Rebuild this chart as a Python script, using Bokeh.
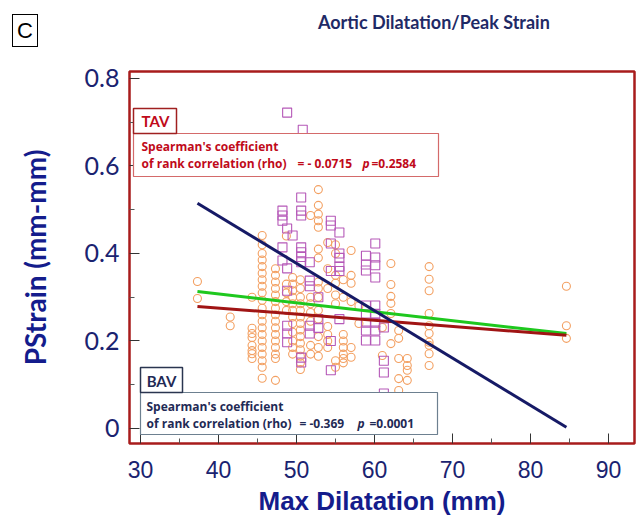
from bokeh.plotting import figure
from bokeh.layouts import column
from bokeh.models import Range1d, FixedTicker, Label, BoxAnnotation, Div
from bokeh.embed import file_html
from bokeh.resources import INLINE

# ---------------- data ----------------
x_ticks = [30, 40, 50, 60, 70, 80, 90]
x_minor = [35, 45, 55, 65, 75, 85]
y_ticks = [0, 0.2, 0.4, 0.6, 0.8]
y_minor = [0.1, 0.3, 0.5, 0.7]
y_tick_labels = {0: "0", 0.2: "0.2", 0.4: "0.4", 0.6: "0.6", 0.8: "0.8"}

# BAV (orange circles): column x positions and the strain values in each column
bav_col_x = [37.3, 41.5, 44.3, 45.6, 47.3, 48.7, 49.5, 50.5, 51.8, 52.8,
             54.0, 55.0, 56.0, 57.0, 58.0, 61.0, 62.1, 63.1, 64.2, 67.0, 84.6]
bav_col_y = [
    [0.336, 0.297],
    [0.255, 0.235],
    [0.30, 0.229, 0.217, 0.208, 0.19, 0.178, 0.171, 0.16],
    [0.441, 0.42, 0.40, 0.385, 0.37, 0.355, 0.34, 0.325, 0.31, 0.293, 0.275,
     0.26, 0.245, 0.23, 0.215, 0.20, 0.185, 0.17, 0.155, 0.14, 0.115],
    [0.365, 0.35, 0.335, 0.32, 0.305, 0.29, 0.275, 0.26, 0.245, 0.23, 0.215,
     0.20, 0.185, 0.17, 0.16, 0.11],
    [0.44, 0.33, 0.31, 0.29, 0.27],
    [0.345, 0.33, 0.315, 0.30, 0.285, 0.27, 0.255, 0.24, 0.22, 0.20, 0.185, 0.17],
    [0.34, 0.32, 0.30, 0.285, 0.27, 0.255, 0.24, 0.225, 0.21, 0.195, 0.18,
     0.165, 0.15, 0.135],
    [0.487, 0.30, 0.285, 0.265, 0.245, 0.19, 0.17],
    [0.546, 0.51, 0.49, 0.475, 0.46, 0.41, 0.39, 0.335, 0.32, 0.30, 0.27,
     0.25, 0.21, 0.185, 0.165],
    [0.425, 0.365, 0.32, 0.233, 0.215, 0.20, 0.185],
    [0.42, 0.40, 0.35, 0.332, 0.305, 0.285, 0.155, 0.14],
    [0.34, 0.30, 0.215, 0.20, 0.185, 0.17, 0.16, 0.15],
    [0.407, 0.35, 0.332, 0.29, 0.185, 0.163],
    [0.28, 0.24],
    [0.231, 0.167],
    [0.377, 0.329, 0.302, 0.286, 0.263, 0.194],
    [0.224, 0.206, 0.16, 0.114, 0.087],
    [0.16, 0.144, 0.133, 0.11],
    [0.37, 0.341, 0.315, 0.263, 0.235, 0.217, 0.197, 0.19, 0.171, 0.144],
    [0.325, 0.235, 0.206],
]

# TAV (purple squares)
tav_col_x = [48.8, 50.8, 48.2, 48.8, 49.5, 50.6, 51.7, 52.8, 54.4, 55.5,
             58.9, 60.1, 61.2]
tav_col_y = [
    [0.722],
    [0.683],
    [0.498, 0.487, 0.475, 0.414, 0.384],
    [0.457, 0.366, 0.315, 0.235, 0.217, 0.197],
    [0.441],
    [0.528, 0.498, 0.487, 0.414, 0.403, 0.392, 0.38, 0.162, 0.151],
    [0.38, 0.338, 0.325, 0.235, 0.217],
    [0.30, 0.25, 0.23],
    [0.475, 0.464, 0.423, 0.36, 0.20, 0.133],
    [0.448, 0.40, 0.39, 0.37, 0.36, 0.25],
    [0.395, 0.375, 0.361, 0.281, 0.26, 0.242, 0.224, 0.201],
    [0.423, 0.391, 0.373, 0.345, 0.281, 0.262, 0.242, 0.224, 0.201],
    [0.231, 0.155, 0.128, 0.08],
]

# regression lines (end points)
bav_fit_x = [37.3, 84.6]
bav_fit_y = [0.515, 0.003]
tav_fit_x = [37.3, 84.6]
tav_fit_y = [0.279, 0.213]
all_fit_x = [37.3, 84.6]
all_fit_y = [0.313, 0.217]

bav_x = [cx for cx, ys in zip(bav_col_x, bav_col_y) for _ in ys]
bav_y = [y for ys in bav_col_y for y in ys]
tav_x = [cx for cx, ys in zip(tav_col_x, tav_col_y) for _ in ys]
tav_y = [y for ys in tav_col_y for y in ys]

# ---------------- layout ----------------
W, H = 637, 523
HDR = 60                                     # height of the header strip
FL, FR, FT, FB = 129, 634, 71, 443           # frame edges in page pixels
X0, X1 = 28.59, 93.33
Y0, Y1 = -0.0343, 0.816


def dx(px):
    return X0 + (px - FL) * (X1 - X0) / (FR - FL)


def dy(py):
    return Y1 - (py - FT) * (Y1 - Y0) / (FB - FT)


# header strip: panel letter in a box and the chart title
header_html = (
    '<div style="position:relative;width:%dpx;height:%dpx;background:white;">'
    '<div style="position:absolute;left:12px;top:14px;width:26px;height:33px;'
    'box-sizing:border-box;border:1px solid black;background:white;'
    "font-family:'Liberation Sans';font-size:22px;line-height:31px;"
    'text-align:center;color:black;">C</div>'
    '<div style="position:absolute;left:318px;top:11px;height:22px;'
    "white-space:nowrap;font-family:'Lato';font-weight:bold;font-size:18px;"
    'line-height:22px;color:#1f2a66;">Aortic Dilatation/Peak Strain</div>'
    '</div>' % (W, HDR)
)
hdr = Div(text=header_html, width=W, height=HDR, margin=0)

NAVY = "#1a2370"
p = figure(width=W, height=H - HDR, x_range=Range1d(X0, X1),
           y_range=Range1d(Y0, Y1),
           output_backend="svg", toolbar_location=None, title=None,
           min_border_left=FL, min_border_right=W - FR,
           min_border_top=FT - HDR, min_border_bottom=H - FB)
p.grid.visible = False
p.outline_line_color = "#a81c1c"
p.outline_line_width = 2.5
p.background_fill_color = "white"
p.border_fill_color = "white"

p.xaxis.ticker = FixedTicker(ticks=x_ticks, minor_ticks=x_minor)
p.yaxis.ticker = FixedTicker(ticks=y_ticks, minor_ticks=y_minor)
p.yaxis.major_label_overrides = y_tick_labels

for ax in (p.xaxis, p.yaxis):
    ax.axis_line_color = None
    ax.major_tick_in = 10
    ax.major_tick_out = 0
    ax.minor_tick_in = 5
    ax.minor_tick_out = 0
    ax.major_tick_line_color = "#333333"
    ax.minor_tick_line_color = "#555555"
    ax.major_label_text_color = NAVY
    ax.axis_label_text_color = "#141c8c"
    ax.axis_label_text_font_style = "bold"

p.xaxis.axis_label = "Max Dilatation (mm)"
p.xaxis.axis_label_text_font = "Liberation Sans"
p.xaxis.axis_label_text_font_size = "26px"
p.xaxis.major_label_text_font = "Liberation Sans"
p.xaxis.major_label_text_font_size = "23px"
p.xaxis.major_label_standoff = 17
p.xaxis.axis_label_standoff = 5

p.yaxis.axis_label = "PStrain (mm-mm)"
p.yaxis.axis_label_text_font = "Lato"
p.yaxis.axis_label_text_font_size = "28px"
p.yaxis.major_label_text_font = "Lato"
p.yaxis.major_label_text_font_size = "25px"
p.yaxis.major_label_standoff = 10
p.yaxis.axis_label_standoff = 30

# data marks
p.scatter(bav_x, bav_y, marker="circle", size=8, fill_color=None,
          line_color="#f3a062", line_width=1.1)
p.scatter(tav_x, tav_y, marker="square", size=9, fill_color=None,
          line_color="#b558b8", line_width=1.1)

p.line(all_fit_x, all_fit_y, line_color="#1ec81e", line_width=3)
p.line(tav_fit_x, tav_fit_y, line_color="#a01414", line_width=3)
p.line(bav_fit_x, bav_fit_y, line_color="#161a66", line_width=3)

# ---------------- annotations ----------------
RED = "#c00a1a"
BNAVY = "#1f2a55"
LFONT = "Open Sans"
FS = "12px"


def box(l, t, r, b, color, lw=1.5):
    p.add_layout(BoxAnnotation(left=dx(l), right=dx(r), top=dy(t), bottom=dy(b),
                               fill_color="white", fill_alpha=1.0,
                               line_color=color, line_width=lw, line_alpha=1.0))


def txt(x, y, s, color, size=FS, style="bold", align="left", font=LFONT):
    p.add_layout(Label(x=dx(x), y=dy(y), text=s, text_color=color,
                       text_font=font, text_font_size=size,
                       text_font_style=style, text_align=align,
                       text_baseline="middle"))


# TAV
box(133, 133, 438, 176, "#d46a6a", 1.2)
box(133, 108, 176, 133, "#a02020", 1.5)
txt(155, 120, "TAV", RED, "15px", "bold", "center", "Lato")
txt(141, 146, "Spearman's  coefficient", RED)
txt(141, 163, "of rank correlation  (rho)", RED)
txt(297, 163, "= - 0.0715", RED)
txt(362, 163, "p", RED, FS, "bold italic")
txt(371, 163, "=0.2584", RED)

# BAV
box(140, 392, 437, 434, "#6d8090", 1.2)
box(140, 367, 182, 392, "#2a3550", 1.5)
txt(161, 380, "BAV", BNAVY, "15px", "bold", "center", "Lato")
txt(146, 406, "Spearman's  coefficient", BNAVY)
txt(146, 423, "of rank correlation  (rho)", BNAVY)
txt(299, 423, "= -0.369", BNAVY)
txt(357, 423, "p", BNAVY, FS, "bold italic")
txt(369, 423, "=0.0001", BNAVY)

page = column(hdr, p, spacing=0)
open("out.html", "w").write(file_html(page, INLINE))
